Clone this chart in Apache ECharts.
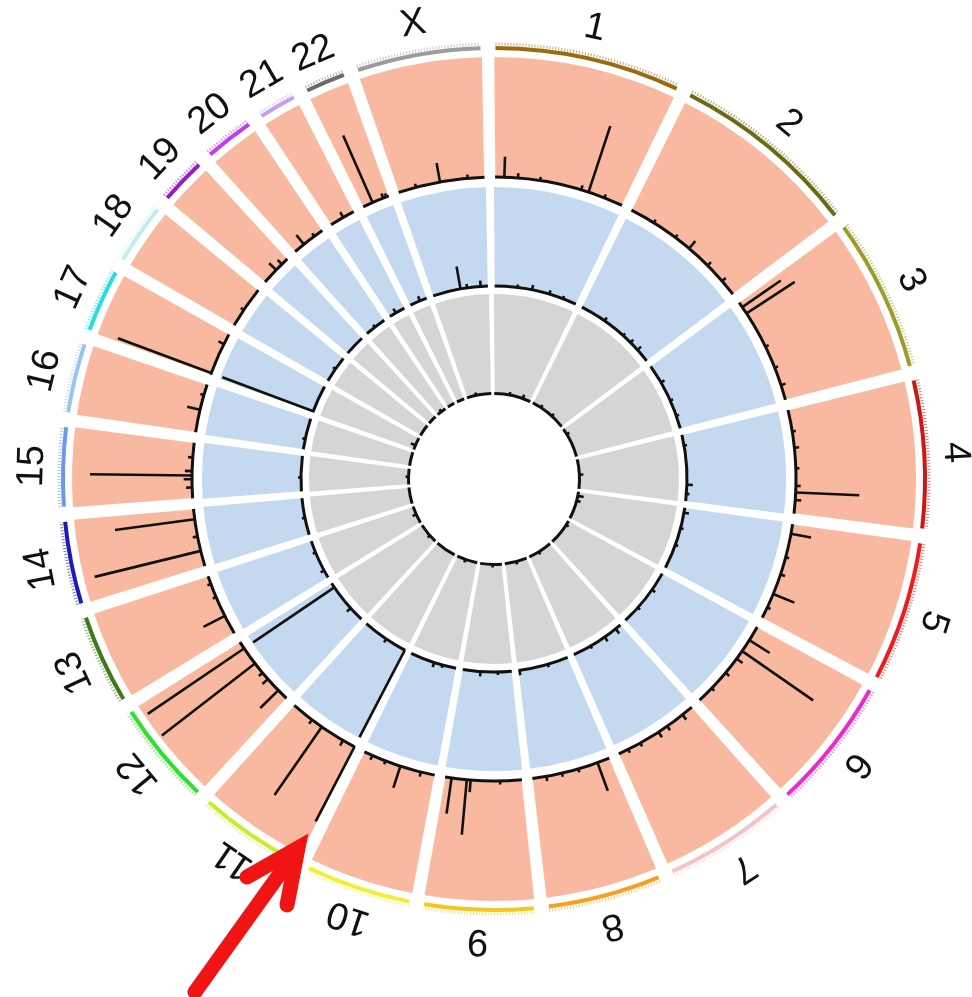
<!DOCTYPE html>
<html>
<head>
<meta charset="utf-8">
<script src="https://cdn.jsdelivr.net/npm/echarts@6/dist/echarts.min.js"></script>
<style>
html, body { margin: 0; padding: 0; background: #fff; }
#chart { width: 972px; height: 997px; }
</style>
</head>
<body>
<div id="chart"></div>
<script>
// chromosomes around the circle (sizes in Mb)
var chromosomes = ['1', '2', '3', '4', '5', '6', '7', '8', '9', '10', '11', '12',
    '13', '14', '15', '16', '17', '18', '19', '20', '21', '22', 'X'];
var chromSizes = [240, 243, 198, 191, 181, 171, 159, 146, 141, 136, 135, 134,
    115, 107, 102, 90, 81, 78, 59, 63, 48, 51, 160];
var chromColors = ['#9a6a10', '#6b6b12', '#9c9c2c', '#c81818', '#f01c1c', '#e82ccc',
    '#f2c4c8', '#f5a020', '#f2c81c', '#f0f030', '#c8ec2c', '#2ce02c',
    '#3c7a1c', '#1c1cb4', '#6c98ec', '#9cc4ec', '#2cdcdc', '#c4ecec',
    '#9420c4', '#c03cf0', '#c4a0ec', '#6a6a6a', '#9c9c9c'];
var GAP = 19.3;

// spikes: [chromosome index, position (Mb), relative height 0..1]
var outerSpikes = [
    [0, 17, 0.17], [0, 42, 0.04], [0, 83, 0.03], [0, 160, 0.04], [0, 174, 0.58], [0, 205, 0.03],
    [1, 47, 0.03], [1, 95, 0.03], [1, 127, 0.08], [1, 173, 0.04], [1, 212, 0.04],
    [2, 10, 0.39], [2, 24, 0.48], [2, 94, 0.03], [2, 136, 0.03], [2, 170, 0.04],
    [3, 40, 0.03], [3, 70, 0.04], [3, 108, 0.03], [3, 140, 0.04], [3, 152, 0.53], [3, 166, 0.05],
    [4, 18, 0.17], [4, 62, 0.03], [4, 95, 0.04], [4, 133, 0.19], [4, 160, 0.03],
    [5, 28, 0.2], [5, 52, 0.72], [5, 69, 0.06], [5, 102, 0.04], [5, 140, 0.03],
    [6, 22, 0.05], [6, 57, 0.04], [6, 76, 0.05], [6, 115, 0.03], [6, 140, 0.03],
    [7, 23, 0.25], [7, 60, 0.03], [7, 91, 0.03], [7, 120, 0.04],
    [8, 40, 0.03], [8, 94, 0.1], [8, 101, 0.46], [8, 129, 0.3],
    [9, 26, 0.04], [9, 65, 0.19], [9, 94, 0.03], [9, 120, 0.04],
    [10, 1, 0.7], [10, 25, 0.05], [10, 71, 0.69], [10, 93, 0.04],
    [11, 21, 0.21], [11, 49, 0.06], [11, 64, 0.04], [11, 86, 0.98], [11, 120, 0.97],
    [12, 36, 0.2], [12, 74, 0.03], [12, 100, 0.03],
    [13, 29, 0.91], [13, 56, 0.04], [13, 88, 0.67],
    [14, 20, 0.05], [14, 35, 0.07], [14, 42, 0.85], [14, 50, 0.06], [14, 75, 0.04],
    [15, 42, 0.11], [15, 70, 0.03],
    [16, 3, 0.83], [16, 61, 0.05],
    [17, 33, 0.03],
    [18, 30, 0.08], [18, 45, 0.05],
    [19, 21, 0.1], [19, 45, 0.03],
    [20, 26, 0.05],
    [21, 19, 0.61], [21, 40, 0.04], [21, 46, 0.03],
    [22, 33, 0.03], [22, 78, 0.16], [22, 129, 0.03]
];
var middleSpikes = [
    [0, 66, 0.03], [0, 108, 0.05], [0, 159, 0.04], [0, 200, 0.03],
    [1, 76, 0.04], [1, 144, 0.03], [1, 173, 0.04], [1, 202, 0.05],
    [2, 55, 0.04], [2, 113, 0.03], [2, 160, 0.03],
    [3, 31, 0.03], [3, 144, 0.06], [3, 170, 0.03],
    [4, 14, 0.05], [4, 60, 0.03], [4, 110, 0.03],
    [5, 55, 0.04], [5, 120, 0.03],
    [6, 18, 0.06], [6, 57, 0.05], [6, 105, 0.03],
    [7, 60, 0.03], [7, 143, 0.05],
    [8, 40, 0.03], [8, 90, 0.05],
    [9, 40, 0.03], [9, 65, 0.05],
    [10, 1, 0.99], [10, 63, 0.04],
    [11, 44, 0.05], [11, 120, 0.99],
    [12, 23, 0.04], [12, 80, 0.03],
    [13, 50, 0.03], [14, 40, 0.03], [15, 30, 0.03],
    [16, 3, 0.98], [17, 40, 0.03], [19, 30, 0.03], [20, 20, 0.05], [21, 30, 0.05],
    [22, 81, 0.23], [22, 100, 0.04], [22, 139, 0.06]
];
var innerSpikes = [
    [0, 100, 0.03], [0, 188, 0.04], [1, 60, 0.03], [1, 150, 0.03], [2, 40, 0.03],
    [3, 100, 0.04], [4, 27, 0.06], [4, 60, 0.04], [5, 30, 0.03], [6, 90, 0.03],
    [7, 70, 0.03], [8, 60, 0.03], [9, 80, 0.03], [11, 50, 0.03], [12, 60, 0.04],
    [14, 50, 0.03], [16, 29, 0.05], [19, 30, 0.03], [22, 60, 0.03]
];

var offsets = [];
var total = 0;
chromSizes.forEach(function(size) {
    offsets.push(total);
    total += size + GAP;
});

var CENTER = [494, 479];
// polar index: 0 ideogram, 1 outer (pink), 2 middle (blue), 3 inner (grey)
var ringRadius = [[429, 433], [302, 422], [193, 292], [85.5, 185]];
var ringFill = [null, '#f8b9a0', '#c4d9ef', '#d5d5d5'];
var ringStroke = [0, 8, 5, 3];

function angleAt(api, cs, v) {
    var p = api.coord([1, v]);
    return Math.atan2(p[1] - cs.cy, p[0] - cs.cx);
}
function span(api, cs, a, b) {
    var s = angleAt(api, cs, a);
    var e = angleAt(api, cs, b);
    while (e <= s) e += Math.PI * 2;
    return [s, e];
}

var chromData = chromosomes.map(function(c, i) {
    return [1, offsets[i] + chromSizes[i] / 2];
});

function backgroundSeries(k) {
    return {
        type: 'custom', coordinateSystem: 'polar', polarIndex: k, z: 1,
        data: chromData, silent: true,
        renderItem: function(params, api) {
            var cs = params.coordSys;
            var i = params.dataIndex;
            var sp = span(api, cs, offsets[i] - GAP * 0.35, offsets[i] + chromSizes[i] + GAP * 0.35);
            var w = ringStroke[k];
            return {
                type: 'sector',
                shape: { cx: cs.cx, cy: cs.cy, r0: cs.r0 - w / 2, r: cs.r + w / 2,
                    startAngle: sp[0], endAngle: sp[1], clockwise: true },
                style: { fill: ringFill[k], stroke: '#fff', lineWidth: w }
            };
        }
    };
}

function baselineSeries(k) {
    return {
        type: 'custom', coordinateSystem: 'polar', polarIndex: k, z: 2,
        data: chromData, silent: true,
        renderItem: function(params, api) {
            var cs = params.coordSys;
            var i = params.dataIndex;
            var sp = span(api, cs, offsets[i], offsets[i] + chromSizes[i]);
            return {
                type: 'arc',
                shape: { cx: cs.cx, cy: cs.cy, r: cs.r0, startAngle: sp[0], endAngle: sp[1], clockwise: true },
                style: { stroke: '#111', lineWidth: 3, fill: null }
            };
        }
    };
}

function spikeSeries(k, spikes) {
    return {
        type: 'custom', coordinateSystem: 'polar', polarIndex: k, z: 3,
        silent: true,
        data: spikes.map(function(s) { return [s[2], offsets[s[0]] + s[1]]; }),
        renderItem: function(params, api) {
            var a = api.value(1);
            var base = api.coord([0, a]);
            var tip = api.coord([api.value(0), a]);
            return {
                type: 'line',
                shape: { x1: base[0], y1: base[1], x2: tip[0], y2: tip[1] },
                style: { stroke: '#111', lineWidth: 2.6 }
            };
        }
    };
}

var series = [];
[1, 2, 3].forEach(function(k) { series.push(backgroundSeries(k)); });
[1, 2, 3].forEach(function(k) { series.push(baselineSeries(k)); });
series.push(spikeSeries(1, outerSpikes));
series.push(spikeSeries(2, middleSpikes));
series.push(spikeSeries(3, innerSpikes));

// ideogram band, ticks and chromosome names
series.push({
    type: 'custom', coordinateSystem: 'polar', polarIndex: 0, z: 4,
    data: chromData, silent: true,
    renderItem: function(params, api) {
        var cs = params.coordSys;
        var i = params.dataIndex;
        var sp = span(api, cs, offsets[i], offsets[i] + chromSizes[i]);
        var mid = angleAt(api, cs, offsets[i] + chromSizes[i] / 2);
        var R = cs.r + 29;
        return {
            type: 'group',
            children: [{
                type: 'sector',
                shape: { cx: cs.cx, cy: cs.cy, r0: cs.r0, r: cs.r, startAngle: sp[0], endAngle: sp[1], clockwise: true },
                style: { fill: chromColors[i] }
            }, {
                type: 'arc',
                shape: { cx: cs.cx, cy: cs.cy, r: cs.r + 2, startAngle: sp[0], endAngle: sp[1], clockwise: true },
                style: { stroke: chromColors[i], lineWidth: 3, lineDash: [1, 2], fill: null, opacity: 0.6 }
            }, {
                type: 'text',
                x: cs.cx + R * Math.cos(mid),
                y: cs.cy + R * Math.sin(mid),
                rotation: -(mid + Math.PI / 2),
                style: {
                    text: chromosomes[i], x: 0, y: 0,
                    align: 'center', verticalAlign: 'middle',
                    font: '38px "Liberation Sans", Arial, sans-serif',
                    fill: '#111'
                }
            }]
        };
    }
});

var chart = echarts.init(document.getElementById('chart'));
chart.setOption({
    animation: false,
    backgroundColor: '#fff',
    polar: ringRadius.map(function(r) { return { center: CENTER, radius: r }; }),
    angleAxis: ringRadius.map(function(r, i) {
        return { polarIndex: i, type: 'value', min: 0, max: total, startAngle: 89.8, clockwise: true,
            show: false, axisLine: { show: false }, splitLine: { show: false }, axisLabel: { show: false } };
    }),
    radiusAxis: ringRadius.map(function(r, i) {
        return { polarIndex: i, type: 'value', min: 0, max: 1,
            show: false, axisLine: { show: false }, splitLine: { show: false }, axisLabel: { show: false } };
    }),
    series: series,
    graphic: [{
        type: 'line', z: 10,
        shape: { x1: 195, y1: 992, x2: 294, y2: 854 },
        style: { stroke: '#f01414', lineWidth: 15, lineCap: 'round' }
    }, {
        type: 'polyline', z: 10,
        shape: { points: [[247, 877], [298, 848], [287, 905]] },
        style: { stroke: '#f01414', lineWidth: 15, lineCap: 'round', lineJoin: 'miter', fill: null }
    }]
});
</script>
</body>
</html>
